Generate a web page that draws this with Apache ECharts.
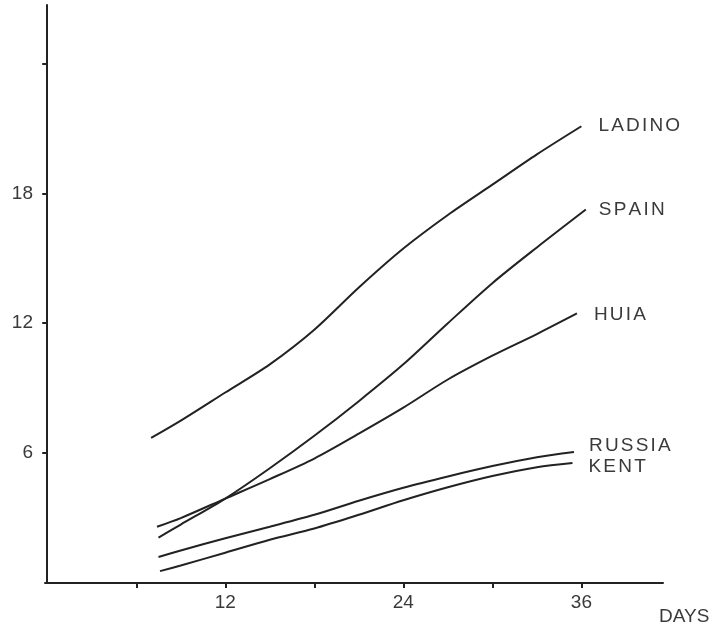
<!DOCTYPE html>
<html>
<head>
<meta charset="utf-8">
<script src="https://cdn.jsdelivr.net/npm/echarts@6/dist/echarts.min.js"></script>
<style>
  html, body { margin: 0; padding: 0; background: #fff; }
  #chart { width: 722px; height: 637px; }
</style>
</head>
<body>
<div id="chart"></div>
<script>
// Growth curves (height vs. days) for five varieties
const ladinoDays   = [7, 9, 12, 15, 18, 21, 24, 27, 30, 33, 36];
const ladinoValues = [6.7, 7.5, 8.8, 10.1, 11.7, 13.65, 15.45, 17.0, 18.4, 19.8, 21.1];

const spainDays    = [7.5, 9, 12, 15, 18, 21, 24, 27, 30, 33, 36.3];
const spainValues  = [2.1, 2.7, 3.9, 5.3, 6.8, 8.4, 10.1, 12.0, 13.85, 15.5, 17.25];

const huiaDays     = [7.4, 9, 12, 15, 18, 21, 24, 27, 30, 33, 35.7];
const huiaValues   = [2.6, 3.0, 3.9, 4.8, 5.75, 6.9, 8.1, 9.4, 10.5, 11.5, 12.45];

const russiaDays   = [7.5, 9, 12, 15, 18, 21, 24, 27, 30, 33, 35.5];
const russiaValues = [1.2, 1.5, 2.07, 2.6, 3.15, 3.8, 4.4, 4.92, 5.4, 5.81, 6.05];

const kentDays     = [7.6, 9, 12, 15, 18, 21, 24, 27, 30, 33, 35.4];
const kentValues   = [0.55, 0.81, 1.4, 2.0, 2.52, 3.15, 3.82, 4.42, 4.94, 5.35, 5.54];

const xTicks  = [6, 12, 18, 24, 30, 36];
const xLabels = [12, 24, 36];
const yTicks  = [6, 12, 18, 24];
const yLabels = [6, 12, 18];

const ink = '#222';
const textInk = '#3a3a3a';
const font = 'Liberation Sans, Arial, sans-serif';
const fontSize = 19;

function pairs(xs, ys) { return xs.map((x, i) => [x, ys[i]]); }

// Letter-spaced caption: each character is its own rich token with a little right padding
function spaced(text) {
  const chars = Array.from(text);
  return chars.map((c, i) => (i < chars.length - 1 ? '{s|' + c + '}' : '{e|' + c + '}')).join('');
}
const spacedRich = {
  s: { color: textInk, fontFamily: font, fontSize: fontSize, padding: [0, 2.2, 0, 0] },
  e: { color: textInk, fontFamily: font, fontSize: fontSize }
};

function curve(name, xs, ys, dist, dy) {
  return {
    name: name,
    type: 'line',
    data: pairs(xs, ys),
    smooth: 0.3,
    showSymbol: false,
    lineStyle: { color: ink, width: 2 },
    endLabel: {
      show: true,
      formatter: spaced(name),
      distance: dist,
      offset: [0, dy],
      rich: spacedRich
    }
  };
}

const chart = echarts.init(document.getElementById('chart'), null, { renderer: 'canvas' });
chart.setOption({
  animation: false,
  backgroundColor: '#fff',
  grid: { left: 45, right: 59, top: 5, bottom: 54, containLabel: false },
  xAxis: {
    type: 'value',
    min: -0.15,
    max: 41.5,
    name: 'DAYS',
    nameLocation: 'end',
    nameGap: 0,
    nameTextStyle: {
      color: textInk, fontFamily: font, fontSize: fontSize,
      align: 'left', verticalAlign: 'top', padding: [24, 0, 0, -4]
    },
    axisLine: { show: true, lineStyle: { color: ink, width: 2 } },
    axisTick: { show: true, inside: false, length: 5, customValues: xTicks, lineStyle: { color: ink, width: 2 } },
    axisLabel: { customValues: xLabels, margin: 10, color: textInk, fontFamily: font, fontSize: fontSize },
    splitLine: { show: false }
  },
  yAxis: {
    type: 'value',
    min: 0,
    max: 26.7,
    axisLine: { show: true, lineStyle: { color: ink, width: 2 } },
    axisTick: { show: true, inside: false, length: 5, customValues: yTicks, lineStyle: { color: ink, width: 2 } },
    axisLabel: { customValues: yLabels, margin: 12, color: textInk, fontFamily: font, fontSize: fontSize },
    splitLine: { show: false }
  },
  series: [
    curve('LADINO', ladinoDays, ladinoValues, 17, 0),
    curve('SPAIN', spainDays, spainValues, 13, 0),
    curve('HUIA', huiaDays, huiaValues, 17, 1),
    curve('RUSSIA', russiaDays, russiaValues, 15, -6),
    curve('KENT', kentDays, kentValues, 16, 4)
  ]
});
</script>
</body>
</html>
